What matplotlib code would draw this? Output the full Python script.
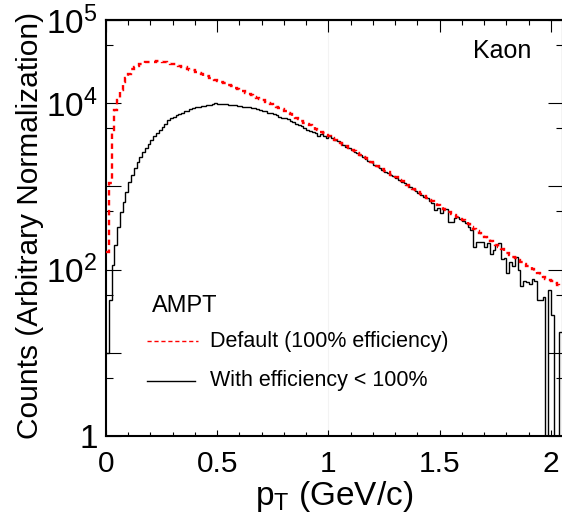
import numpy as np
import matplotlib
matplotlib.use('Agg')
from matplotlib import pyplot as plt
from matplotlib.ticker import FixedLocator, FixedFormatter, MultipleLocator

plt.rcParams['font.family'] = ['Liberation Sans', 'DejaVu Sans']
plt.rcParams['mathtext.default'] = 'regular'

# histogram bins (GeV/c)
bin_width = 0.0125

# AMPT default (100% efficiency)
default_counts = [
    163, 1100, 4770, 8290, 10930, 14410, 17980, 20080, 22430, 25760,
    27230, 28380, 29190, 30000, 30850, 31270, 31270, 31700, 32150, 32150,
    31270, 30850, 30420, 30000, 29590, 28780, 28380, 27230, 26860, 26120,
    25410, 24720, 24040, 23060, 22430, 21520, 20940, 20360, 19810, 19000,
    18480, 17980, 17490, 17010, 16550, 15880, 15440, 14810, 14410, 14020,
    13260, 12900, 12550, 12030, 11550, 11230, 10780, 10480, 10060, 9780,
    9380, 9000, 8760, 8400, 8060, 7630, 7320, 7020, 6640, 6370,
    6110, 5860, 5630, 5400, 5180, 4900, 4700, 4510, 4330, 4200,
    4040, 3870, 3660, 3470, 3330, 3150, 3020, 2900, 2740, 2630,
    2520, 2390, 2260, 2170, 2050, 1970, 1860, 1780, 1690, 1600,
    1540, 1470, 1390, 1337, 1280, 1210, 1150, 1101, 1042, 972,
    933, 895, 847, 801, 769, 727, 688, 660, 624, 591,
    567, 536, 514, 494, 467, 448, 430, 407, 390, 374,
    350, 326, 305, 288, 272, 262, 247, 234, 222, 210,
    199, 188, 178, 168, 159, 151, 143, 137, 129, 124,
    116, 111, 106, 102, 95.4, 90.3, 85.4, 80.8, 77.6, 75.4,
    72.4, 68.5, 65.7, 63.0,
]

# with efficiency < 100%
eff_counts = [
    9.9, 43.4, 114, 199, 326, 494, 651, 859, 1132, 1375,
    1670, 1970, 2260, 2590, 2900, 3240, 3610, 4040, 4390, 4770,
    5180, 5630, 6280, 6640, 6920, 7220, 7420, 7730, 7950, 8170,
    8400, 8640, 8880, 9000, 9250, 9380, 9510, 9640, 9780, 10060,
    9780, 9780, 9780, 9700, 9640, 9640, 9510, 9380, 9250, 9120,
    9000, 8880, 8760, 8640, 8520, 8290, 8170, 7950, 7730, 7520,
    7320, 7120, 6920, 6730, 6550, 6370, 6110, 5950, 5700, 5470,
    5250, 5040, 4770, 4570, 4510, 4390, 4090, 4210, 4040, 3820,
    3980, 3820, 3610, 3470, 3280, 3110, 2980, 2860, 2740, 2590,
    2490, 2390, 2230, 2140, 2020, 1940, 1830, 1760, 1670, 1580,
    1510, 1430, 1375, 1320, 1250, 1197, 1132, 1086, 1028, 972,
    920, 883, 835, 790, 748, 717, 669, 633, 522, 551,
    480, 536, 536, 374, 374, 418, 430, 407, 385, 364,
    326, 300, 188, 216, 216, 216, 188, 210, 155, 173,
    199, 210, 135, 139, 91.6, 124, 111, 143, 99, 63.9,
    73.4, 71.4, 67.5, 77.6, 73.4, 43.4, 43.4, 47.0, 0, 57.2,
    28.5, 0, 0, 17.8,
]

y_ticks = [1, 10, 100, 1000, 10000, 100000]
y_ticklabels = ['1', '', r'$10^{2}$', '', r'$10^{4}$', r'$10^{5}$']
x_ticks = [0, 0.5, 1, 1.5, 2]
x_ticklabels = ['0', '0.5', '1', '1.5', '2']

default_counts = np.array(default_counts, dtype=float)
eff_counts = np.array(eff_counts, dtype=float)
edges = np.arange(len(default_counts) + 1) * bin_width

fig = plt.figure(figsize=(5.62, 5.15), dpi=100)
ax = fig.add_axes([106 / 562, 79 / 515, 457 / 562, 416 / 515])

ax.axvline(1.0, color='#f3f3f3', lw=0.8, zorder=0)

# empty bins drop to the bottom of the frame (log scale)
ax.stairs(np.where(eff_counts > 0, eff_counts, 1e-3), edges, baseline=None,
          color='black', lw=1.0, zorder=2)
ax.stairs(default_counts, edges, baseline=None, color='#ff0000', lw=1.7,
          linestyle=(0, (2.3, 1.9)), zorder=3)

ax.set_yscale('log')
ax.set_xlim(0, 2.054)
ax.set_ylim(1, 1e5)

ax.yaxis.set_major_locator(FixedLocator(y_ticks))
ax.yaxis.set_major_formatter(FixedFormatter(y_ticklabels))
ax.yaxis.set_minor_locator(FixedLocator([5, 50, 500, 5000, 50000]))
ax.yaxis.set_minor_formatter(FixedFormatter([]))
ax.xaxis.set_major_locator(FixedLocator(x_ticks))
ax.xaxis.set_major_formatter(FixedFormatter(x_ticklabels))
ax.xaxis.set_minor_locator(MultipleLocator(0.1))

ax.tick_params(axis='both', which='both', direction='in', width=0.8, color='black')
ax.tick_params(axis='y', which='major', length=11, left=True, right=True,
               labelsize=24, pad=6)
ax.tick_params(axis='y', which='minor', length=5, left=True, right=True)
ax.tick_params(axis='x', which='major', length=4, labelsize=21.5, pad=10)
ax.tick_params(axis='x', which='minor', length=3)

top = ax.secondary_xaxis('top')
top.xaxis.set_major_locator(FixedLocator(x_ticks))
top.xaxis.set_minor_locator(MultipleLocator(0.1))
top.tick_params(axis='x', which='both', direction='in', labeltop=False, width=0.8)
top.tick_params(axis='x', which='major', length=8.5)
top.tick_params(axis='x', which='minor', length=3.6)
top.spines['top'].set_linewidth(1.5)

for s in ax.spines.values():
    s.set_linewidth(1.5)

fig.text(0.053, 0.563, 'Counts (Arbitrary Normalization)', rotation=90,
         ha='center', va='center', fontsize=21.5)
fig.text(334 / 562, 0.02, r'p$_{T}$ (GeV/c)', ha='center', va='baseline', fontsize=24)

# labels and legend
ax.text(0.803, 0.9255, 'Kaon', transform=ax.transAxes, fontsize=18, va='center')
ax.text(0.1007, 0.3125, 'AMPT', transform=ax.transAxes, fontsize=17, va='center')
ax.plot([0.0897, 0.2013], [0.2284, 0.2284], transform=ax.transAxes,
        color='#ff0000', lw=1.0, linestyle=(0, (3, 2)))
ax.plot([0.0897, 0.1947], [0.1322, 0.1322], transform=ax.transAxes,
        color='black', lw=1.0)
ax.text(0.2276, 0.226, 'Default (100% efficiency)', transform=ax.transAxes,
        fontsize=15.5, va='center')
ax.text(0.2276, 0.1346, 'With efficiency < 100%', transform=ax.transAxes,
        fontsize=15.5, va='center')

plt.savefig('out.png', dpi=100)
